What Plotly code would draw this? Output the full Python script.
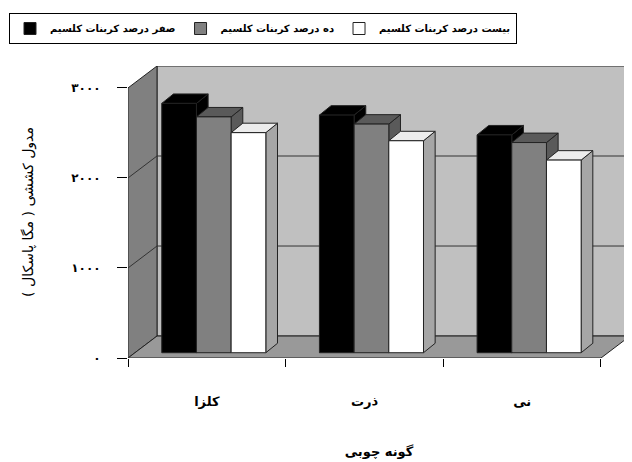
import plotly.graph_objects as go

# ---- data ----
categories = ["کلزا", "ذرت", "نی"]
series_names = ["صفر درصد کربنات کلسیم", "ده درصد کربنات کلسیم", "بیست درصد کربنات کلسیم"]
values_0 = [2770, 2640, 2420]
values_10 = [2620, 2540, 2335]
values_20 = [2445, 2355, 2140]
y_tickvals = [0, 1000, 2000, 3000]
y_ticktext = ["۰", "۱۰۰۰", "۲۰۰۰", "۳۰۰۰"]
y_title = "مدول کششی ( مگا پاسکال )"
x_title = "گونه چوبی"

series_values = [values_0, values_10, values_20]
front_colors = ["#000000", "#808080", "#ffffff"]
top_colors = ["#000000", "#5a5a5a", "#ececec"]
side_colors = ["#000000", "#5a5a5a", "#a6a6a6"]

# ---- geometry (3D look); page body has an 8px margin ----
OFF = 8
W, H = 632 - OFF, 462 - OFF
ml, mr, mt, mb = 128 - OFF, 2, 66 - OFF, 104
n = len(categories)
ymax = 3000
DX = 0.184          # full depth, x units
DY = 244            # full depth, y units
xr = [0, n + DX]
yr = [0, ymax + DY]
bar_w = 0.22
front_depth = 0.24
bdx, bdy = 0.074, 105
fx, fy = front_depth * DX, front_depth * DY

def path(pts):
    return "M " + " L ".join(f"{x},{y}" for x, y in pts) + " Z"

shapes = []
edge = dict(color="#222222", width=1)
# back wall
shapes.append(dict(type="path", xref="x", yref="y", layer="below",
                   path=path([(DX, DY), (n + DX, DY), (n + DX, ymax + DY), (DX, ymax + DY)]),
                   fillcolor="#c0c0c0", line=edge))
# left wall
shapes.append(dict(type="path", xref="x", yref="y", layer="below",
                   path=path([(0, 0), (DX, DY), (DX, ymax + DY), (0, ymax)]),
                   fillcolor="#808080", line=edge))
# floor
shapes.append(dict(type="path", xref="x", yref="y", layer="below",
                   path=path([(0, 0), (n, 0), (n + DX, DY), (DX, DY)]),
                   fillcolor="#999999", line=edge))
# gridlines
for v in y_tickvals[1:-1]:
    shapes.append(dict(type="line", xref="x", yref="y", layer="below",
                       x0=DX, x1=n + DX, y0=v + DY, y1=v + DY, line=dict(color="#333333", width=1)))
    shapes.append(dict(type="line", xref="x", yref="y", layer="below",
                       x0=0, x1=DX, y0=v, y1=v + DY, line=dict(color="#333333", width=1)))

# bar tops and sides (beneath front faces)
for ci in range(n):
    for si, vals in enumerate(series_values):
        v = vals[ci]
        xl = ci + 0.5 + (si - 1.5) * bar_w + fx
        xrt = xl + bar_w
        base = fy
        top = base + v
        shapes.append(dict(type="path", xref="x", yref="y", layer="below",
                           path=path([(xrt, base), (xrt, top), (xrt + bdx, top + bdy), (xrt + bdx, base + bdy)]),
                           fillcolor=side_colors[si], line=edge))
        shapes.append(dict(type="path", xref="x", yref="y", layer="below",
                           path=path([(xl, top), (xrt, top), (xrt + bdx, top + bdy), (xl + bdx, top + bdy)]),
                           fillcolor=top_colors[si], line=edge))

def px_x(p):
    return (p - OFF - ml) / (W - ml - mr)

def px_y(p):
    return (H - mb - (p - OFF)) / (H - mt - mb)

fig = go.Figure()
for si, vals in enumerate(series_values):
    xs = [ci + 0.5 + (si - 1) * bar_w + fx for ci in range(n)]
    fig.add_trace(go.Bar(
        x=xs, y=vals, base=[fy] * n, width=bar_w, name=series_names[si],
        marker=dict(color=front_colors[si], line=dict(color="#222222", width=1)),
        hoverinfo="skip",
    ))

font_family = "DejaVu Sans, Liberation Serif, serif"
fig.update_layout(
    width=W, height=H,
    margin=dict(l=ml, r=mr, t=mt, b=mb, autoexpand=False),
    paper_bgcolor="white", plot_bgcolor="rgba(0,0,0,0)",
    barmode="overlay",
    font=dict(family=font_family, color="#000000"),
    shapes=shapes,
    showlegend=True,
    legend=dict(orientation="h", x=px_x(9), y=px_y(13), xanchor="left", yanchor="top",
                bgcolor="white", bordercolor="#000000", borderwidth=1,
                font=dict(size=10, weight="bold", family=font_family),
                traceorder="normal"),
    xaxis=dict(range=xr, showgrid=False, zeroline=False, showline=False,
               tickmode="array", tickvals=[i + 0.5 for i in range(n)], ticktext=categories,
               ticks="", ticklabelstandoff=34,
               tickfont=dict(size=13, weight="bold"),
               minor=dict(tickmode="array", tickvals=list(range(n + 1)), ticks="outside",
                          ticklen=8, tickcolor="#000000", showgrid=False),
               title=dict(text=x_title, font=dict(size=13, weight="bold"), standoff=38),
               fixedrange=True),
    yaxis=dict(range=yr, showgrid=False, zeroline=False, showline=False,
               tickmode="array", tickvals=y_tickvals, ticktext=y_ticktext,
               ticks="outside", ticklen=10, tickcolor="#000000",
               ticklabelstandoff=14,
               tickfont=dict(size=12, weight="bold"),
               title=dict(text=y_title, font=dict(size=14), standoff=34),
               fixedrange=True),
)

fig.write_html("out.html")
